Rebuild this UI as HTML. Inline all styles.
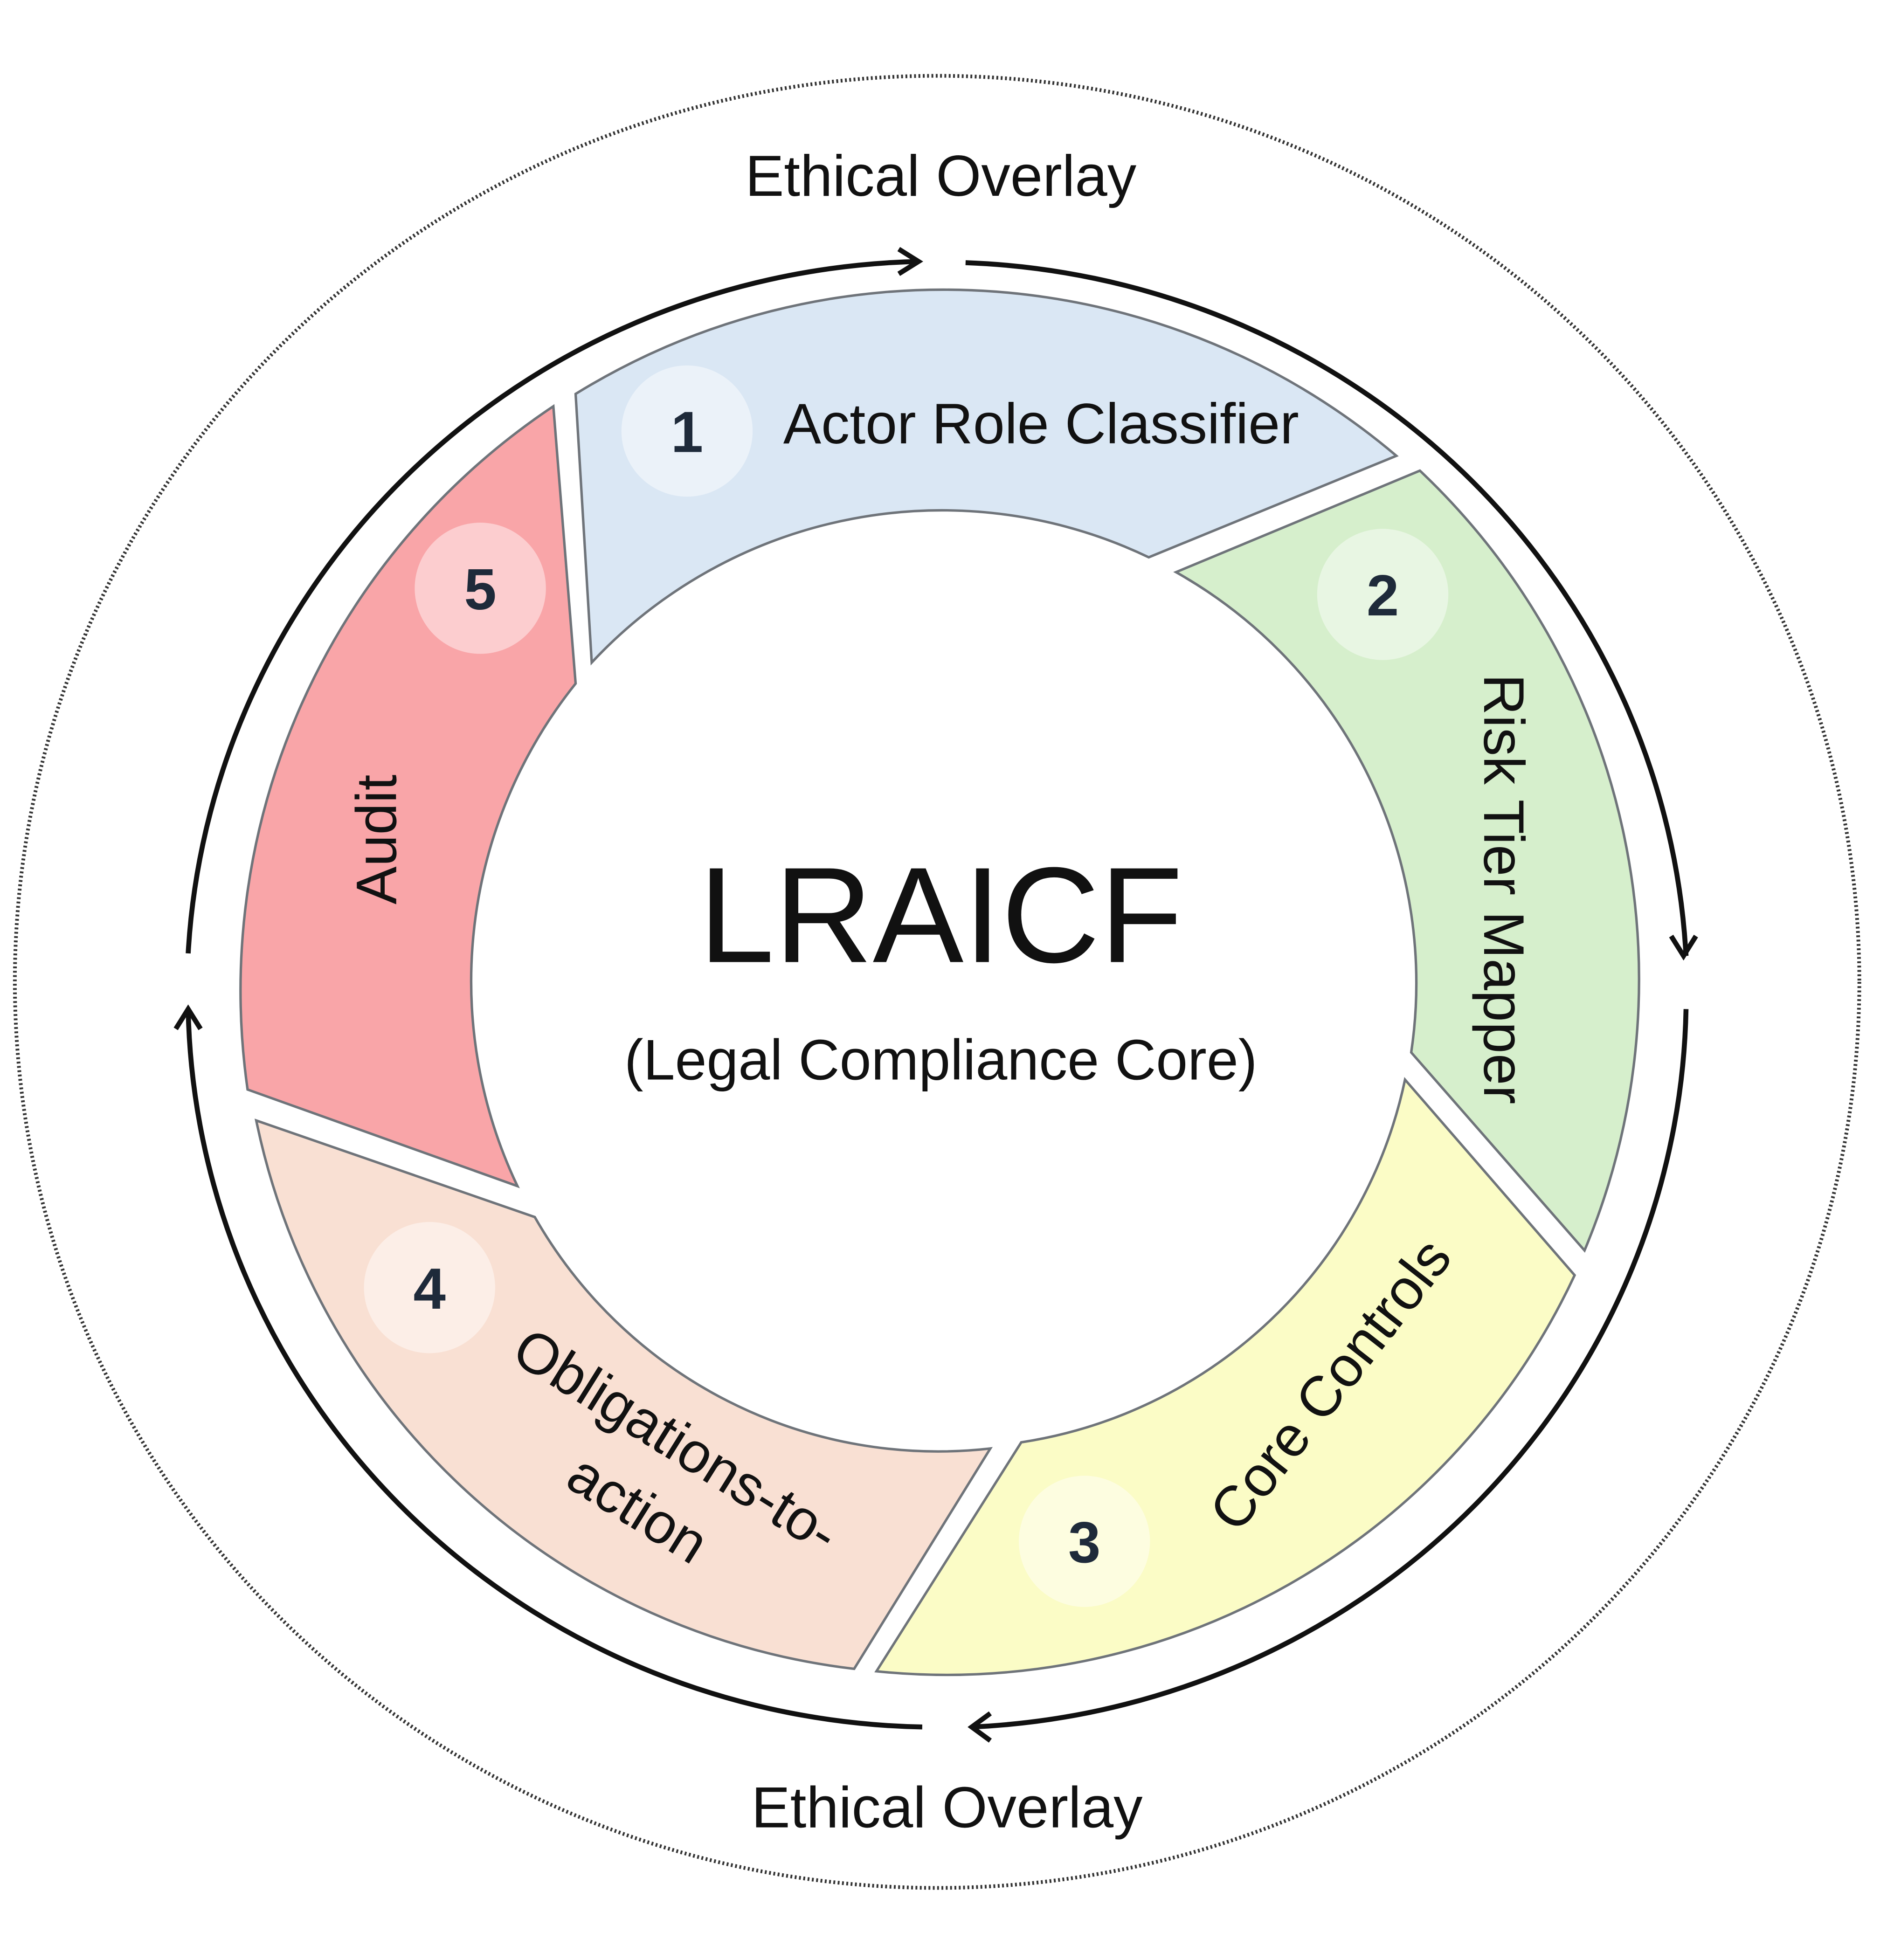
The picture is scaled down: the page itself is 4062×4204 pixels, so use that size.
<!DOCTYPE html>
<html><head><meta charset="utf-8"><style>
html,body{margin:0;padding:0;background:#fff;}
svg{display:block;}
text{font-family:"Liberation Sans","DejaVu Sans",sans-serif;}
</style></head><body>
<svg width="4062" height="4204" viewBox="0 0 1530 1583" xmlns="http://www.w3.org/2000/svg">
<rect width="1530" height="1583" fill="#fff"/>
<ellipse cx="757" cy="793" rx="745" ry="732" fill="none" stroke="#333" stroke-width="3" stroke-dasharray="1.5 2"/>
<g fill="none" stroke="#111" stroke-width="4">
<path d="M152 770 A605 592 0 0 1 742 211"/>
<path d="M780 212 A605 592 0 0 1 1362 772"/>
<path d="M1362 815 A605 592 0 0 1 785 1395"/>
<path d="M745 1395 A605 592 0 0 1 152 815"/>
<polyline points="726,201 742,211 726,221"/>
<polyline points="1350,756 1360,772 1370,756"/>
<polyline points="800,1384 785,1395 800,1406"/>
<polyline points="142,831 152,815 162,831"/>
</g>
<g stroke="#6f747a" stroke-width="2">
<path d="M465 318 A566 566 0 0 1 1128 368 L928 450 A387 387 0 0 0 478 535 Z" fill="#dae7f4"/>
<path d="M1147 380 A566 566 0 0 1 1280 1010 L1140 850 A381 381 0 0 0 950 462 Z" fill="#d6efcc"/>
<path d="M1272 1030 A560 560 0 0 1 708 1350 L825 1165 A375 375 0 0 0 1135 872 Z" fill="#fbfcc6"/>
<path d="M690 1348 A560 560 0 0 1 207 905 L432 983 A375 375 0 0 0 800 1170 Z" fill="#f9e0d3"/>
<path d="M200 880 A567 567 0 0 1 447 328 L465 552 A385 385 0 0 0 418 958 Z" fill="#f9a5a8"/>
</g>
<g fill="#fff" fill-opacity="0.45">
<circle cx="555" cy="348" r="53"/>
<circle cx="1117" cy="480" r="53"/>
<circle cx="876" cy="1245" r="53"/>
<circle cx="347" cy="1040" r="53"/>
<circle cx="388" cy="475" r="53"/>
</g>
<g font-weight="bold" font-size="47" fill="#1e2a3a" text-anchor="middle">
<text x="555" y="365">1</text>
<text x="1117" y="497">2</text>
<text x="876" y="1262">3</text>
<text x="347" y="1057">4</text>
<text x="388" y="492">5</text>
</g>
<g font-size="46" fill="#111" text-anchor="middle">
<text x="841" y="358">Actor Role Classifier</text>
<text transform="translate(1199,718) rotate(90)">Risk Tier Mapper</text>
<text transform="translate(1087,1128) rotate(-52)">Core Controls</text>
<text transform="translate(538,1177) rotate(32)">Obligations-to-</text>
<text transform="translate(507,1232) rotate(32)">action</text>
<text transform="translate(320,678) rotate(-90)">Audit</text>
<text x="760" y="158" font-size="47">Ethical Overlay</text>
<text x="765" y="1476" font-size="47">Ethical Overlay</text>
<text x="760" y="872" font-size="46">(Legal Compliance Core)</text>
<text x="760" y="777" font-size="110">LRAICF</text>
</g>
</svg>
</body></html>
